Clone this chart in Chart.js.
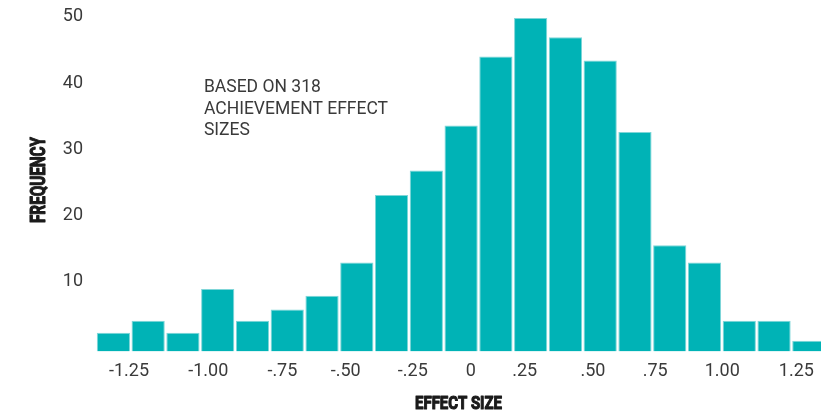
<!DOCTYPE html>
<html>
<head>
<meta charset="utf-8">
<script src="https://cdn.jsdelivr.net/npm/chart.js@4.4.1/dist/chart.umd.min.js"></script>
<style>
  html, body { margin: 0; padding: 0; background: #ffffff; }
  #wrap { width: 821px; height: 411px; position: relative; }
</style>
</head>
<body>
<div id="wrap"><canvas id="c"></canvas></div>
<script>
// ---- data ----
// 21 histogram bins (bin index 0..20), frequency per bin
const binIndex = [0,1,2,3,4,5,6,7,8,9,10,11,12,13,14,15,16,17,18,19,20];
const frequency = [2.3, 4.1, 2.3, 8.9, 4.1, 5.8, 7.9, 12.9, 23.1, 26.8, 33.6, 44.0, 49.8, 46.9, 43.4, 32.6, 15.5, 12.9, 4.1, 4.1, 1.1];
// x tick labels and where they sit along the bin axis (in bin units)
const xTickLabels = ['-1.25', '-1.00', '-.75', '-.50', '-.25', '0', '.25', '.50', '.75', '1.00', '1.25'];
const xTickValues = [0.95, 3.23, 5.36, 7.18, 9.11, 10.78, 12.33, 14.29, 16.08, 18.01, 20.14];
const yTickValues = [10, 20, 30, 40, 50];
const noteLines = ['BASED ON 318', 'ACHIEVEMENT EFFECT', 'SIZES'];
const xTitle = 'EFFECT SIZE';
const yTitle = 'FREQUENCY';

const TEXT = '#3a3a3a';
const TITLE_COLOR = '#1a1a1a';
const TICK_FONT = "Roboto, 'Noto Sans', sans-serif";

// condensed heavy text drawn as real canvas text, squeezed horizontally
function condensedText(ctx, text, size, targetWidth) {
  ctx.font = "bold " + size + "px " + TICK_FONT;
  const w = ctx.measureText(text).width;
  const sx = targetWidth / w;
  ctx.save();
  ctx.scale(sx, 1);
  ctx.lineWidth = 1.1;
  ctx.lineJoin = 'round';
  ctx.strokeStyle = TITLE_COLOR;
  ctx.strokeText(text, 0, 0);
  ctx.fillText(text, 0, 0);
  ctx.restore();
}

const textPlugin = {
  id: 'texts',
  afterDraw(chart) {
    const ctx = chart.ctx;
    const xs = chart.scales.x, ys = chart.scales.y;
    const area = chart.chartArea;
    ctx.save();
    // note
    ctx.fillStyle = TEXT;
    ctx.font = "17.5px " + TICK_FONT;
    ctx.textAlign = 'left';
    ctx.textBaseline = 'middle';
    const x0 = xs.getPixelForValue(3.105);
    const y0 = ys.getPixelForValue(39.3);
    noteLines.forEach((t, i) => ctx.fillText(t, x0, y0 + i * 21.7));

    // x title
    ctx.fillStyle = TITLE_COLOR;
    ctx.textAlign = 'center';
    ctx.textBaseline = 'alphabetic';
    ctx.save();
    ctx.translate((area.left + area.right) / 2, 408.5);
    condensedText(ctx, xTitle, 18.3, 87);
    ctx.restore();

    // y title
    ctx.save();
    ctx.translate(44.5, 180);
    ctx.rotate(-Math.PI / 2);
    condensedText(ctx, yTitle, 19.7, 86);
    ctx.restore();
    ctx.restore();
  }
};

const points = binIndex.map((b, i) => ({ x: b + 0.5, y: frequency[i] }));

new Chart(document.getElementById('c'), {
  type: 'bar',
  data: {
    datasets: [{
      data: points,
      base: -0.53,
      backgroundColor: '#00b3b6',
      borderColor: '#7fd6d8',
      borderWidth: 1,
      barPercentage: 1.0,
      categoryPercentage: 0.955,
      clip: 0
    }]
  },
  options: {
    responsive: true,
    maintainAspectRatio: false,
    animation: false,
    devicePixelRatio: 1,
    layout: { padding: { left: 0, right: 0, top: 0, bottom: 0 } },
    plugins: { legend: { display: false }, tooltip: { enabled: false } },
    scales: {
      x: {
        type: 'linear',
        min: 0,
        max: 20.85,
        offset: false,
        grid: { display: false, drawTicks: false },
        border: { display: false },
        afterBuildTicks(scale) { scale.ticks = xTickValues.map(v => ({ value: v })); },
        afterFit(scale) {
          scale.height = 59.5;
          scale.paddingLeft = 0; scale.paddingRight = 0;
        },
        ticks: {
          autoSkip: false,
          maxRotation: 0,
          padding: 9,
          color: TEXT,
          font: { family: TICK_FONT, size: 18 },
          callback(v, i) { return xTickLabels[i]; }
        },
        title: { display: false }
      },
      y: {
        min: -0.53,
        max: 52.53,
        grid: { display: false, drawTicks: false },
        border: { display: false },
        afterBuildTicks(scale) { scale.ticks = yTickValues.map(v => ({ value: v })); },
        afterFit(scale) {
          scale.width = 96;
          scale.paddingTop = 0; scale.paddingBottom = 0;
        },
        ticks: {
          padding: 13,
          color: TEXT,
          font: { family: TICK_FONT, size: 18 }
        },
        title: { display: false }
      }
    }
  },
  plugins: [textPlugin]
});
</script>
</body>
</html>
